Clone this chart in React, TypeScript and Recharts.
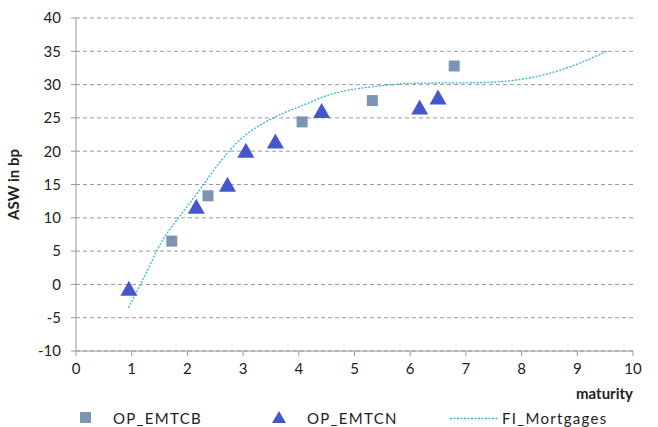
import React from 'react';
import { ComposedChart, Scatter, Line, XAxis, YAxis, CartesianGrid, Label } from 'recharts';

const emtcbMaturity = [1.72, 2.37, 4.06, 5.32, 6.79];
const emtcbAsw = [6.5, 13.3, 24.4, 27.6, 32.8];

const emtcnMaturity = [0.95, 2.16, 2.72, 3.05, 3.58, 4.41, 6.17, 6.5];
const emtcnAsw = [-0.8, 11.5, 14.8, 19.9, 21.3, 25.9, 26.4, 27.9];

const mortMaturity = [0.94, 1.2, 1.56, 1.86, 2.22, 2.58, 2.88, 3.54, 4.02, 4.56, 5.46, 6.05, 7.25, 8.21, 8.81, 9.53];
const mortAsw = [-3.5, 0.7, 6.7, 10.2, 14.2, 18.3, 21.2, 25.0, 26.7, 28.5, 29.8, 30.2, 30.3, 31.1, 32.5, 35.0];

const xTicks = [0, 1, 2, 3, 4, 5, 6, 7, 8, 9, 10];
const yTicks = [-10, -5, 0, 5, 10, 15, 20, 25, 30, 35, 40];

const SQUARE_COLOR = '#7b95b3';
const TRI_COLOR = '#4656cc';
const LINE_COLOR = '#2fb8dc';
const FONT = 'Lato, "Open Sans", sans-serif';

const emtcb = emtcbMaturity.map((x, i) => ({ x, y: emtcbAsw[i] }));
const emtcn = emtcnMaturity.map((x, i) => ({ x, y: emtcnAsw[i] }));
const mortgages = mortMaturity.map((x, i) => ({ x, y: mortAsw[i] }));

const SquareDot = (props: any) => {
  const { cx, cy } = props;
  return <rect x={cx - 5.5} y={cy - 5.5} width={11} height={11} fill={SQUARE_COLOR} />;
};

const TriangleDot = (props: any) => {
  const { cx, cy } = props;
  return <polygon points={`${cx},${cy - 9} ${cx - 8.5},${cy + 6} ${cx + 8.5},${cy + 6}`} fill={TRI_COLOR} />;
};

const legendText: React.CSSProperties = { fontFamily: FONT, fontSize: 15, color: '#222', letterSpacing: 1.3, lineHeight: '20px' };

const ChartLegend = () => (
  <div style={{ position: 'absolute', left: 0, top: 408, width: 658, height: 20 }}>
    <svg style={{ position: 'absolute', left: 80, top: 4 }} width={12} height={12}>
      <rect x={0} y={0} width={11} height={11} fill={SQUARE_COLOR} />
    </svg>
    <span style={{ ...legendText, position: 'absolute', left: 113, top: 0 }}>OP_EMTCB</span>
    <svg style={{ position: 'absolute', left: 272, top: 3 }} width={15} height={13}>
      <polygon points="7,0 0,12 14,12" fill={TRI_COLOR} />
    </svg>
    <span style={{ ...legendText, position: 'absolute', left: 307, top: 0 }}>OP_EMTCN</span>
    <svg style={{ position: 'absolute', left: 450, top: 9 }} width={48} height={3}>
      <line x1={0} y1={1.5} x2={48} y2={1.5} stroke={LINE_COLOR} strokeWidth={1.3} strokeDasharray="2 1.5" />
    </svg>
    <span style={{ ...legendText, position: 'absolute', left: 502, top: 0 }}>FI_Mortgages</span>
  </div>
);

export default function App() {
  return (
    <div style={{ position: 'absolute', left: 0, top: 0, width: 658, height: 427, background: '#fff' }}>
      <ComposedChart width={658} height={427} margin={{ top: 18, right: 25, left: 0, bottom: 46 }}>
        <CartesianGrid vertical={false} stroke="#9a9a9a" strokeDasharray="4 3" />
        <XAxis
          type="number"
          dataKey="x"
          domain={[0, 10]}
          ticks={xTicks}
          interval={0}
          allowDataOverflow
          stroke="#999"
          tickSize={5}
          tickMargin={7}
          height={30}
          tick={{ fill: '#222', fontSize: 15, fontFamily: FONT }}
        >
          <Label value="maturity" position="insideBottomRight" offset={0} dy={18} style={{ fontWeight: 'bold', fill: '#222', fontSize: 15, fontFamily: FONT }} />
        </XAxis>
        <YAxis
          type="number"
          dataKey="y"
          domain={[-10, 40]}
          ticks={yTicks}
          interval={0}
          width={76}
          stroke="#999"
          tickSize={5}
          tickMargin={10}
          tick={{ fill: '#222', fontSize: 15, fontFamily: FONT }}
        >
          <Label value="ASW in bp" angle={-90} position="insideLeft" offset={14} style={{ textAnchor: 'middle', fontWeight: 'bold', fill: '#222', fontSize: 15, fontFamily: FONT }} />
        </YAxis>
        <Line
          data={mortgages}
          dataKey="y"
          type="monotone"
          stroke={LINE_COLOR}
          strokeWidth={1.3}
          strokeDasharray="2 1.5"
          dot={false}
          activeDot={false}
          isAnimationActive={false}
          legendType="none"
        />
        <Scatter name="OP_EMTCB" data={emtcb} shape={SquareDot} isAnimationActive={false} />
        <Scatter name="OP_EMTCN" data={emtcn} shape={TriangleDot} isAnimationActive={false} />
      </ComposedChart>
      <ChartLegend />
    </div>
  );
}
